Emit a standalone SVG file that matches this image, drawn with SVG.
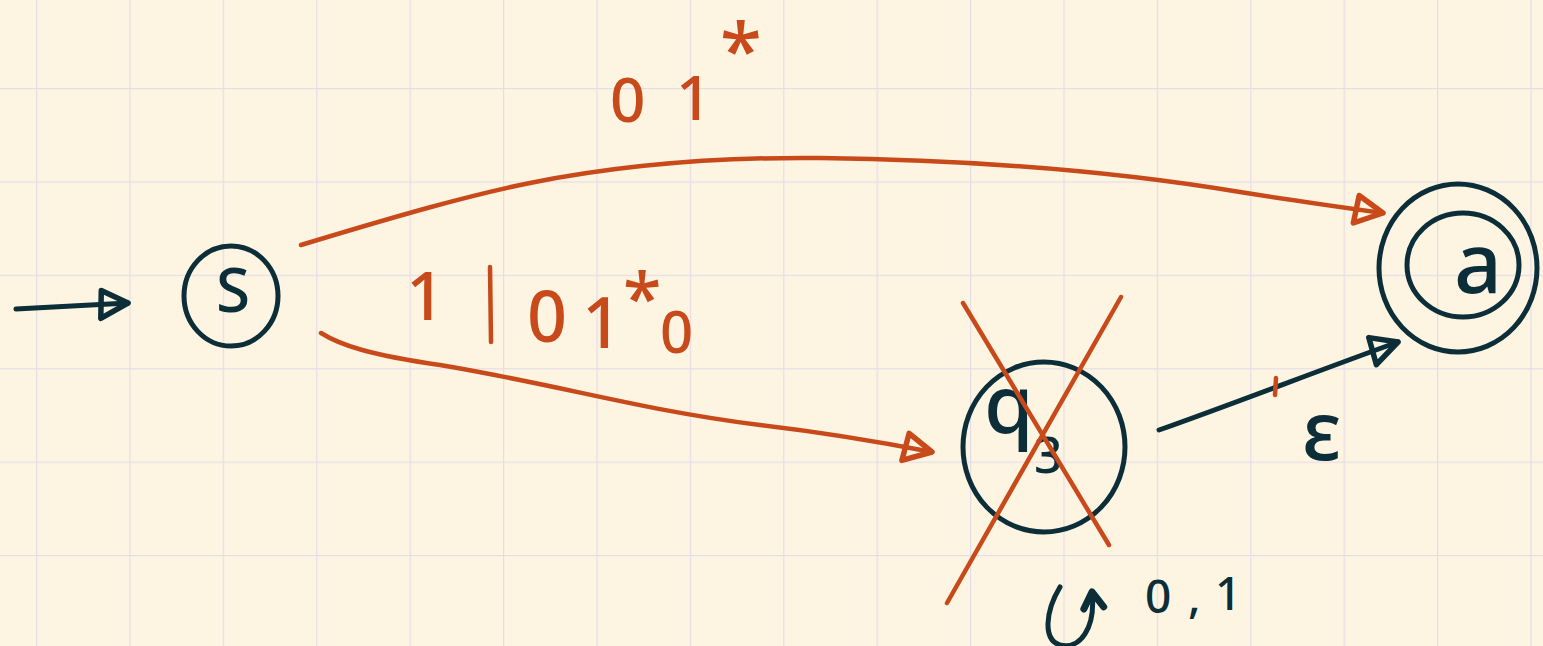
<svg xmlns="http://www.w3.org/2000/svg" width="1543" height="646" viewBox="0 0 1543 646">
<defs>
<pattern id="grid" x="36" y="-5.4" width="93.4" height="93.4" patternUnits="userSpaceOnUse">
<path d="M0 0V93.4M0 0H93.4" stroke="#e5dde8" stroke-width="2.5" fill="none"/>
</pattern>
<marker id="headR" markerUnits="userSpaceOnUse" markerWidth="50" markerHeight="50" refX="36" refY="18" orient="auto">
<path d="M10 4 L36 18 L8 32 Z" fill="none" stroke="#c84a1b" stroke-width="5.5" stroke-linejoin="round"/>
</marker>
<marker id="headD" markerUnits="userSpaceOnUse" markerWidth="50" markerHeight="50" refX="36" refY="18" orient="auto">
<path d="M10 4 L36 18 L8 32 Z" fill="none" stroke="#0c2e38" stroke-width="5.5" stroke-linejoin="round"/>
</marker>
<marker id="headL" markerUnits="userSpaceOnUse" markerWidth="40" markerHeight="40" refX="20" refY="14" orient="auto">
<path d="M4 4 L20 14 L4 24" fill="none" stroke="#0c2e38" stroke-width="7" stroke-linejoin="round" stroke-linecap="round"/>
</marker>
</defs>
<style>
.node{fill:none;stroke:#0c2e38;stroke-width:5}
.dark{fill:#0c2e38;font-family:"Noto Sans","Liberation Sans",sans-serif;font-weight:500}
.red{fill:#c84a1b;font-family:"Noto Sans","Liberation Sans",sans-serif;font-weight:500}
.eR{fill:none;stroke:#c84a1b;stroke-width:4.5;stroke-linecap:round}
.eD{fill:none;stroke:#0c2e38;stroke-width:5;stroke-linecap:round}
</style>
<rect width="1543" height="646" fill="#fdf5e2"/>
<rect width="1543" height="646" fill="url(#grid)"/>

<g id="connectors">
<path class="eD" d="M16 309 L128 303" marker-end="url(#headD)"/>
<path class="eR" d="M301 245 C400 215 470 195 530 183 C620 165 720 157 820 158 C980 160 1120 172 1240 192 C1290 200 1340 207 1383 213" marker-end="url(#headR)"/>
<path class="eR" d="M321 333 C340 345 370 355 440 365 C560 385 640 410 760 425 C820 432 880 442 932 452" marker-end="url(#headR)"/>
<path class="eD" d="M1159 430 C1230 405 1320 370 1398 342" marker-end="url(#headD)"/>
<path class="eR" d="M1276 378 L1275 395" stroke-width="2"/>
</g>

<g id="node-s">
<ellipse class="node" cx="231" cy="296" rx="47" ry="50"/>
<text class="dark" x="233" y="312" font-size="62" text-anchor="middle">S</text>
</g>

<g id="node-q3">
<ellipse class="node" cx="1044" cy="447" rx="81" ry="85"/>
<text class="dark" font-size="80"><tspan x="984" y="433">q</tspan><tspan x="1034" y="473" font-size="50">3</tspan></text>
<path class="eR" d="M963 303 L1109 545" stroke-width="5"/>
<path class="eR" d="M1121 297 L947 603" stroke-width="5"/>
</g>

<g id="node-a">
<ellipse class="node" cx="1458" cy="268" rx="79" ry="84"/>
<ellipse class="node" cx="1463" cy="265" rx="56" ry="52"/>
<text class="dark" x="1478" y="293" font-size="84" text-anchor="middle">a</text>
</g>

<g id="labels">
<text class="red" font-size="62"><tspan x="610" y="122">0</tspan><tspan x="676" y="120">1</tspan><tspan x="720" y="78" font-size="76">*</tspan></text>
<text class="red" x="406" y="320" font-size="68">1</text>
<path class="eR" d="M490 267 L491 342" stroke-width="5.5"/>
<text class="red" font-size="70"><tspan x="527" y="342">0</tspan><tspan x="582" y="348">1</tspan><tspan x="623" y="324" font-size="70">*</tspan><tspan x="660" y="353" font-size="58">0</tspan></text>
<text class="dark" x="1302" y="460" font-size="82">ε</text>
<path class="eD" d="M1060 587 C1045 612 1043 640 1060 645 C1080 650 1096 628 1092 592" marker-end="url(#headL)" stroke-width="6.5"/>
<text class="dark" font-size="46"><tspan x="1145" y="613">0</tspan><tspan x="1188" y="613">,</tspan><tspan x="1215" y="610">1</tspan></text>
</g>
</svg>
